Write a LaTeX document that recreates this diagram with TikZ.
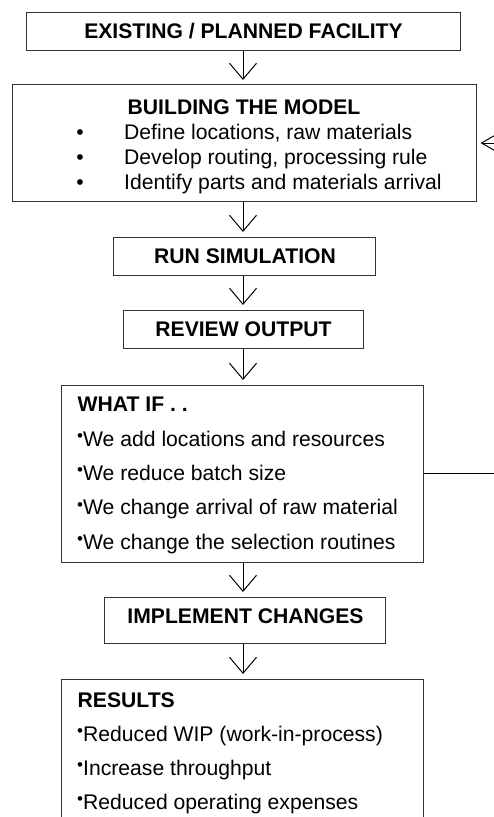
\documentclass[tikz,border=0pt]{standalone}
\usepackage{fontspec}
\setmainfont{Liberation Sans}
\usetikzlibrary{arrows.meta}
\newcommand{\smallbul}{\raisebox{4.5bp}{\fontsize{17bp}{17bp}\selectfont •}}
\begin{document}
\begin{tikzpicture}[x=1bp,y=-1bp,
  font=\fontsize{21.15bp}{24bp}\selectfont,
  box/.style={draw=black!80, line width=1bp, inner sep=0pt},
  lbl/.style={anchor=base, inner sep=0pt, font=\fontsize{21.15bp}{24bp}\selectfont\bfseries},
  ttl/.style={anchor=base west, inner sep=0pt, font=\fontsize{21.15bp}{24bp}\selectfont\bfseries},
  txt/.style={anchor=base west, inner sep=0pt},
  bul/.style={anchor=base, inner sep=0pt},
  arr/.style={draw=black, line width=1bp, shorten >=4.5bp,
    -{Straight Barb[length=16bp,width=27bp,line width=1bp]}},
  sidearr/.style={draw=black, line width=1bp, shorten >=4bp,
    -{Straight Barb[length=14bp,width=16bp,line width=1bp]}},
  plain/.style={draw=black, line width=1bp}]
\useasboundingbox (0,0) rectangle (494,817);
\clip (0,0) rectangle (494,817);

% boxes
\node[box, minimum width=433bp, minimum height=38bp] (existing) at (243.5,32) {};
\node[box, minimum width=463bp, minimum height=116bp] (build) at (244.5,143) {};
\node[box, minimum width=262bp, minimum height=38bp] (run) at (244,256) {};
\node[box, minimum width=240bp, minimum height=38bp] (review) at (243,329) {};
\node[box, minimum width=361bp, minimum height=177bp] (whatif) at (242.5,473.5) {};
\node[box, minimum width=280bp, minimum height=46bp] (impl) at (245,620) {};
\node[box, minimum width=361bp, minimum height=160bp] (results) at (242.5,759) {};

% texts
\node[lbl] (existingT) at (243.5,39) {EXISTING / PLANNED FACILITY};
\node[lbl] (buildT) at (244,114.5) {BUILDING THE MODEL};
\node[bul] (b1) at (80,139) {•};
\node[bul] (b2) at (80,164) {•};
\node[bul] (b3) at (80,189) {•};
\node[txt] (l1) at (124,139) {Define locations, raw materials};
\node[txt] (l2) at (124,164) {Develop routing, processing rule};
\node[txt] (l3) at (124,189) {Identify parts and materials arrival};
\node[lbl] (runT) at (245,263) {RUN SIMULATION};
\node[lbl] (reviewT) at (243.5,336.5) {REVIEW OUTPUT};

\node[ttl] (whatifT) at (77.5,411) {WHAT IF . .};
\node[txt] (w1) at (77,446) {\smallbul We add locations and resources};
\node[txt] (w2) at (77,480) {\smallbul We reduce batch size};
\node[txt] (w3) at (77,514.5) {\smallbul We change arrival of raw material};
\node[txt] (w4) at (77,549) {\smallbul We change the selection routines};

\node[lbl] (implT) at (245.5,623) {IMPLEMENT CHANGES};

\node[ttl] (resultsT) at (77.5,707) {RESULTS};
\node[txt] (r1) at (77,741) {\smallbul Reduced WIP (work-in-process)};
\node[txt] (r2) at (77,775) {\smallbul Increase throughput};
\node[txt] (r3) at (77,809) {\smallbul Reduced operating expenses};

% connectors
\coordinate (ax) at (243,0);
\draw[arr] (existing.south -| ax) -- (build.north -| ax);
\draw[arr] (build.south -| ax) -- (run.north -| ax);
\draw[arr] (run.south -| ax) -- (review.north -| ax);
\draw[arr] (review.south -| ax) -- (whatif.north -| ax);
\draw[arr] (whatif.south -| ax) -- (impl.north -| ax);
\draw[arr] (impl.south -| ax) -- (results.north -| ax);

\coordinate (fbLow) at (500,473.5);
\coordinate (fbHigh) at (496,143);
\draw[plain] (whatif.east) -- (fbLow);
\draw[sidearr] (fbHigh) -- (build.east);
\end{tikzpicture}
\end{document}
